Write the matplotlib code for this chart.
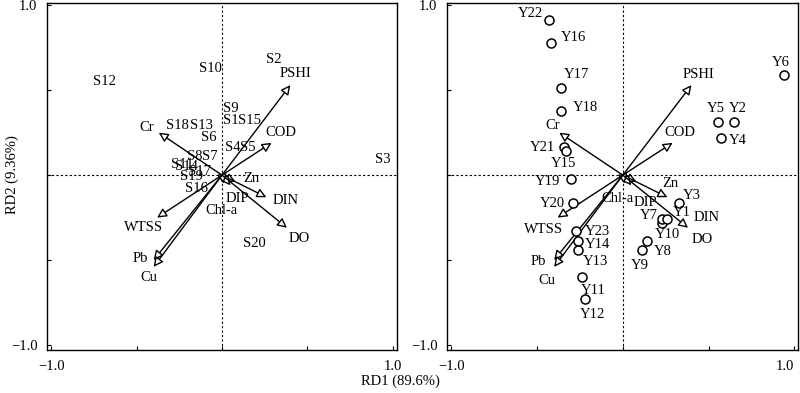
import matplotlib.pyplot as plt

plt.rcParams['font.family'] = ['Liberation Serif', 'DejaVu Serif']

# environmental variable arrows (same in both panels)
env_names = ['PSHI', 'COD', 'Cr', 'Zn', 'DIN', 'DIP', 'Chl-a', 'WTSS', 'DO', 'Pb', 'Cu']
env_x = [0.40, 0.29, -0.37, 0.08, 0.26, 0.05, 0.01, -0.38, 0.38, -0.40, -0.40]
env_y = [0.53, 0.19, 0.25, -0.04, -0.13, -0.06, -0.05, -0.25, -0.31, -0.50, -0.54]

# arrow label positions, left and right panel
envlab_left_x = [0.43, 0.345, -0.44, 0.17, 0.37, 0.09, -0.005, -0.46, 0.45, -0.48, -0.43]
envlab_left_y = [0.60, 0.25, 0.28, -0.02, -0.15, -0.135, -0.21, -0.31, -0.37, -0.49, -0.60]
envlab_right_x = [0.44, 0.33, -0.41, 0.28, 0.49, 0.13, -0.03, -0.46, 0.46, -0.49, -0.44]
envlab_right_y = [0.59, 0.25, 0.29, -0.05, -0.25, -0.16, -0.135, -0.32, -0.38, -0.51, -0.62]

# sites (left panel, text only)
site_names = ['S2', 'S10', 'S12', 'S9', 'S1', 'S15', 'S18', 'S13', 'S6', 'S4', 'S5', 'S3',
              'S8', 'S7', 'S11', 'S14', 'S17', 'S19', 'S16', 'S20']
site_x = [0.30, -0.07, -0.69, 0.05, 0.05, 0.16, -0.26, -0.12, -0.08, 0.06, 0.15, 0.94,
          -0.16, -0.07, -0.23, -0.21, -0.13, -0.18, -0.15, 0.19]
site_y = [0.68, 0.63, 0.55, 0.39, 0.32, 0.32, 0.29, 0.29, 0.22, 0.165, 0.165, 0.09,
          0.11, 0.11, 0.065, 0.05, 0.02, -0.01, -0.08, -0.40]

# samples (right panel, circles)
samp_names = ['Y22', 'Y16', 'Y17', 'Y18', 'Y21', 'Y15', 'Y19', 'Y20', 'Y23', 'Y14', 'Y13',
              'Y11', 'Y12', 'Y9', 'Y8', 'Y10', 'Y7', 'Y1', 'Y3', 'Y5', 'Y2', 'Y4', 'Y6']
samp_x = [-0.43, -0.42, -0.36, -0.36, -0.34, -0.33, -0.30, -0.29, -0.27, -0.26, -0.26,
          -0.24, -0.22, 0.11, 0.14, 0.23, 0.23, 0.26, 0.33, 0.555, 0.65, 0.57, 0.94]
samp_y = [0.91, 0.78, 0.51, 0.38, 0.165, 0.14, -0.02, -0.165, -0.33, -0.39, -0.44,
          -0.60, -0.73, -0.44, -0.39, -0.28, -0.26, -0.26, -0.165, 0.31, 0.31, 0.22, 0.59]
samplab_x = [-0.54, -0.29, -0.27, -0.22, -0.47, -0.345, -0.44, -0.41, -0.15, -0.15, -0.16,
             -0.17, -0.175, 0.10, 0.23, 0.26, 0.15, 0.345, 0.40, 0.54, 0.67, 0.67, 0.92]
samplab_y = [0.95, 0.81, 0.59, 0.40, 0.165, 0.07, -0.04, -0.165, -0.33, -0.41, -0.51,
             -0.68, -0.82, -0.53, -0.45, -0.35, -0.235, -0.22, -0.12, 0.39, 0.39, 0.205, 0.665]

fs = 10.5


def setup_axes(ax):
    ax.set_xlim(-1.023, 1.023)
    ax.set_ylim(-1.03, 1.012)
    ax.axhline(0, color='black', lw=0.8, ls=(0, (2, 2)))
    ax.axvline(0, color='black', lw=0.8, ls=(0, (2, 2)))
    ax.set_xticks([-1, -0.5, 0, 0.5, 1], labels=['\u22121.0', '', '', '', '1.0'])
    ax.set_yticks([-1, -0.5, 0, 0.5, 1], labels=['\u22121.0', '', '', '', '1.0'])
    ax.tick_params(direction='in', length=3, width=0.8, labelsize=10.5, pad=7)
    for s in ax.spines.values():
        s.set_linewidth(1.0)


def draw_arrows(ax, lab_x, lab_y):
    for name, x, y, lx, ly in zip(env_names, env_x, env_y, lab_x, lab_y):
        ax.annotate('', xy=(x, y), xytext=(0, 0),
                    arrowprops=dict(arrowstyle='-|>', fc='white', ec='black',
                                    lw=1.0, mutation_scale=14, shrinkA=0, shrinkB=0))
        ax.text(lx, ly, name, fontsize=fs, ha='center', va='center')


fig = plt.figure(figsize=(8, 3.93), dpi=100)
ax1 = fig.add_axes([0.059, 0.109, 0.437, 0.883])
ax2 = fig.add_axes([0.559, 0.109, 0.439, 0.883])

setup_axes(ax1)
draw_arrows(ax1, envlab_left_x, envlab_left_y)
for name, x, y in zip(site_names, site_x, site_y):
    ax1.text(x, y, name, fontsize=fs, ha='center', va='center')

setup_axes(ax2)
draw_arrows(ax2, envlab_right_x, envlab_right_y)
ax2.plot(samp_x, samp_y, 'o', ms=6.5, mfc='white', mec='black', mew=1.1, ls='none', zorder=3)
for name, lx, ly in zip(samp_names, samplab_x, samplab_y):
    ax2.text(lx, ly, name, fontsize=fs, ha='center', va='center')
# keep the last x tick label inside the figure
ax2.get_xticklabels()[-1].set_horizontalalignment('right')

fig.text(0.015, 0.555, 'RD2 (9.36%)', rotation=90, fontsize=10.5, ha='center', va='center')
fig.text(0.5, 0.03, 'RD1 (89.6%)', fontsize=10.5, ha='center', va='center')

fig.savefig('out.png', dpi=100)
